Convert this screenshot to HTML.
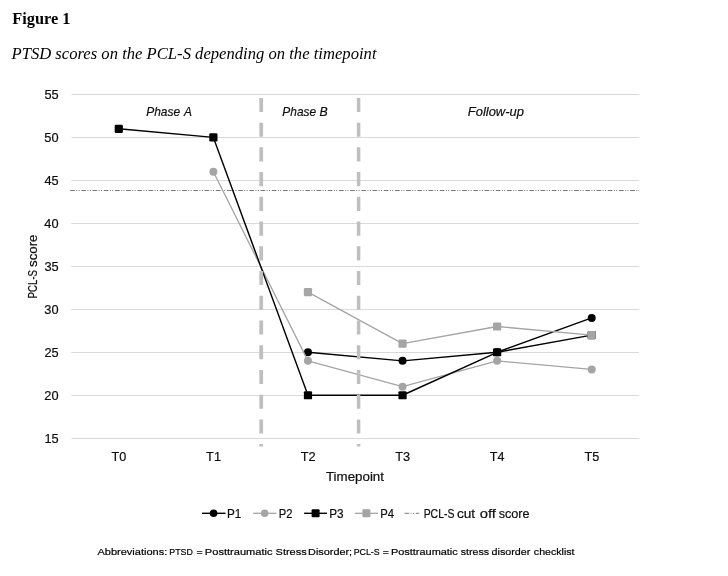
<!DOCTYPE html><html><head><meta charset="utf-8"><style>html,body{margin:0;padding:0;background:#fff;width:728px;height:576px;overflow:hidden}svg{display:block;will-change:transform} .c{stroke:#0d0d0d;stroke-width:0.2px;paint-order:stroke}</style></head><body>
<svg width="728" height="576" viewBox="0 0 728 576">
<rect width="728" height="576" fill="#fff"/>
<text x="12.22" y="23.50" font-family="Liberation Serif" font-weight="bold" font-size="17.3" fill="#000" textLength="58.22" lengthAdjust="spacingAndGlyphs">Figure 1</text>
<text x="11.5" y="59.4" font-family="Liberation Serif" font-style="italic" font-size="17" fill="#000" textLength="365" lengthAdjust="spacingAndGlyphs">PTSD scores on the PCL-S depending on the timepoint</text>
<line x1="71.3" y1="94.50" x2="639.0" y2="94.50" stroke="#d9d9d9" stroke-width="1"/>
<text class="c" x="44.40" y="98.92" font-family="Liberation Sans" font-size="12.8" fill="#0d0d0d" textLength="14.24" lengthAdjust="spacingAndGlyphs">55</text>
<line x1="71.3" y1="137.50" x2="639.0" y2="137.50" stroke="#d9d9d9" stroke-width="1"/>
<text class="c" x="44.36" y="141.90" font-family="Liberation Sans" font-size="12.8" fill="#0d0d0d" textLength="14.24" lengthAdjust="spacingAndGlyphs">50</text>
<line x1="71.3" y1="180.50" x2="639.0" y2="180.50" stroke="#d9d9d9" stroke-width="1"/>
<text class="c" x="44.40" y="184.87" font-family="Liberation Sans" font-size="12.8" fill="#0d0d0d" textLength="14.24" lengthAdjust="spacingAndGlyphs">45</text>
<line x1="71.3" y1="223.50" x2="639.0" y2="223.50" stroke="#d9d9d9" stroke-width="1"/>
<text class="c" x="44.36" y="227.85" font-family="Liberation Sans" font-size="12.8" fill="#0d0d0d" textLength="14.24" lengthAdjust="spacingAndGlyphs">40</text>
<line x1="71.3" y1="266.50" x2="639.0" y2="266.50" stroke="#d9d9d9" stroke-width="1"/>
<text class="c" x="44.40" y="270.82" font-family="Liberation Sans" font-size="12.8" fill="#0d0d0d" textLength="14.24" lengthAdjust="spacingAndGlyphs">35</text>
<line x1="71.3" y1="309.50" x2="639.0" y2="309.50" stroke="#d9d9d9" stroke-width="1"/>
<text class="c" x="44.36" y="313.80" font-family="Liberation Sans" font-size="12.8" fill="#0d0d0d" textLength="14.24" lengthAdjust="spacingAndGlyphs">30</text>
<line x1="71.3" y1="352.50" x2="639.0" y2="352.50" stroke="#d9d9d9" stroke-width="1"/>
<text class="c" x="44.40" y="356.77" font-family="Liberation Sans" font-size="12.8" fill="#0d0d0d" textLength="14.24" lengthAdjust="spacingAndGlyphs">25</text>
<line x1="71.3" y1="395.50" x2="639.0" y2="395.50" stroke="#d9d9d9" stroke-width="1"/>
<text class="c" x="44.36" y="399.75" font-family="Liberation Sans" font-size="12.8" fill="#0d0d0d" textLength="14.24" lengthAdjust="spacingAndGlyphs">20</text>
<line x1="71.3" y1="438.50" x2="639.0" y2="438.50" stroke="#d9d9d9" stroke-width="1"/>
<text class="c" x="44.40" y="442.72" font-family="Liberation Sans" font-size="12.8" fill="#0d0d0d" textLength="14.24" lengthAdjust="spacingAndGlyphs">15</text>
<line x1="70.2" y1="190.5" x2="639.0" y2="190.5" stroke="#7a7a7a" stroke-width="1" stroke-dasharray="4.7 1.4 1 1.3 1 1.8"/>
<text class="c" x="146.23" y="115.70" font-family="Liberation Sans" font-style="italic" font-size="12.8" fill="#0d0d0d" textLength="33.91" lengthAdjust="spacingAndGlyphs">Phase</text>
<text class="c" x="183.89" y="115.70" font-family="Liberation Sans" font-style="italic" font-size="12.8" fill="#0d0d0d" textLength="7.95" lengthAdjust="spacingAndGlyphs">A</text>
<text class="c" x="282.33" y="115.70" font-family="Liberation Sans" font-style="italic" font-size="12.8" fill="#0d0d0d" textLength="33.81" lengthAdjust="spacingAndGlyphs">Phase</text>
<text class="c" x="319.42" y="115.70" font-family="Liberation Sans" font-style="italic" font-size="12.8" fill="#0d0d0d" textLength="8.20" lengthAdjust="spacingAndGlyphs">B</text>
<text class="c" x="467.80" y="115.70" font-family="Liberation Sans" font-style="italic" font-size="12.8" fill="#0d0d0d" textLength="56.12" lengthAdjust="spacingAndGlyphs">Follow-up</text>
<polyline points="307.96,352.27 402.54,360.87 497.12,352.27 591.71,317.89" fill="none" stroke="#000000" stroke-width="1.4" stroke-linejoin="round"/>
<circle cx="307.96" cy="352.27" r="4" fill="#000000"/>
<circle cx="402.54" cy="360.87" r="4" fill="#000000"/>
<circle cx="497.12" cy="352.27" r="4" fill="#000000"/>
<circle cx="591.71" cy="317.89" r="4" fill="#000000"/>
<polyline points="213.38,171.78 307.96,360.87 402.54,386.65 497.12,360.87 591.71,369.46" fill="none" stroke="#a5a5a5" stroke-width="1.3" stroke-linejoin="round"/>
<circle cx="213.38" cy="171.78" r="4" fill="#a5a5a5"/>
<circle cx="307.96" cy="360.87" r="4" fill="#a5a5a5"/>
<circle cx="402.54" cy="386.65" r="4" fill="#a5a5a5"/>
<circle cx="497.12" cy="360.87" r="4" fill="#a5a5a5"/>
<circle cx="591.71" cy="369.46" r="4" fill="#a5a5a5"/>
<polyline points="118.79,128.80 213.38,137.40 307.96,395.25 402.54,395.25 497.12,352.27 591.71,335.08" fill="none" stroke="#000000" stroke-width="1.4" stroke-linejoin="round"/>
<rect x="114.69" y="124.70" width="8.2" height="8.2" rx="1.2" fill="#000000"/>
<rect x="209.28" y="133.30" width="8.2" height="8.2" rx="1.2" fill="#000000"/>
<rect x="303.86" y="391.15" width="8.2" height="8.2" rx="1.2" fill="#000000"/>
<rect x="398.44" y="391.15" width="8.2" height="8.2" rx="1.2" fill="#000000"/>
<rect x="493.02" y="348.17" width="8.2" height="8.2" rx="1.2" fill="#000000"/>
<rect x="587.61" y="330.98" width="8.2" height="8.2" rx="1.2" fill="#000000"/>
<polyline points="307.96,292.11 402.54,343.68 497.12,326.49 591.71,335.08" fill="none" stroke="#a5a5a5" stroke-width="1.3" stroke-linejoin="round"/>
<rect x="303.86" y="288.00" width="8.2" height="8.2" rx="1.2" fill="#a5a5a5"/>
<rect x="398.44" y="339.57" width="8.2" height="8.2" rx="1.2" fill="#a5a5a5"/>
<rect x="493.02" y="322.38" width="8.2" height="8.2" rx="1.2" fill="#a5a5a5"/>
<rect x="587.61" y="330.98" width="8.2" height="8.2" rx="1.2" fill="#a5a5a5"/>
<line x1="261.2" y1="97.9" x2="261.2" y2="446.5" stroke="#bfbfbf" stroke-width="3.8" stroke-dasharray="14.1 10.63"/>
<line x1="358.6" y1="97.9" x2="358.6" y2="446.5" stroke="#bfbfbf" stroke-width="3.5" stroke-dasharray="14.1 10.63"/>
<text class="c" x="111.51" y="460.80" font-family="Liberation Sans" font-size="12.8" fill="#0d0d0d" textLength="14.78" lengthAdjust="spacingAndGlyphs">T0</text>
<text class="c" x="206.09" y="460.80" font-family="Liberation Sans" font-size="12.8" fill="#0d0d0d" textLength="14.91" lengthAdjust="spacingAndGlyphs">T1</text>
<text class="c" x="300.67" y="460.80" font-family="Liberation Sans" font-size="12.8" fill="#0d0d0d" textLength="14.93" lengthAdjust="spacingAndGlyphs">T2</text>
<text class="c" x="395.26" y="460.80" font-family="Liberation Sans" font-size="12.8" fill="#0d0d0d" textLength="14.84" lengthAdjust="spacingAndGlyphs">T3</text>
<text class="c" x="489.84" y="460.80" font-family="Liberation Sans" font-size="12.8" fill="#0d0d0d" textLength="14.65" lengthAdjust="spacingAndGlyphs">T4</text>
<text class="c" x="584.42" y="460.80" font-family="Liberation Sans" font-size="12.8" fill="#0d0d0d" textLength="14.82" lengthAdjust="spacingAndGlyphs">T5</text>
<text class="c" x="325.95" y="480.70" font-family="Liberation Sans" font-size="12.8" fill="#0d0d0d" textLength="58.04" lengthAdjust="spacingAndGlyphs">Timepoint</text>
<g transform="translate(36.5,0) rotate(-90)">
<text class="c" x="-298.39" y="0.00" font-family="Liberation Sans" font-size="12.8" fill="#0d0d0d" textLength="28.44" lengthAdjust="spacingAndGlyphs">PCL-S</text>
<text class="c" x="-266.97" y="0.00" font-family="Liberation Sans" font-size="12.8" fill="#0d0d0d" textLength="32.46" lengthAdjust="spacingAndGlyphs">score</text>
</g>
<line x1="202" y1="513.3" x2="225.5" y2="513.3" stroke="#000000" stroke-width="1.4"/>
<circle cx="213.6" cy="513.3" r="3.8" fill="#000000"/>
<line x1="253.1" y1="513.3" x2="276.4" y2="513.3" stroke="#a5a5a5" stroke-width="1.3"/>
<circle cx="264.7" cy="513.3" r="3.8" fill="#a5a5a5"/>
<line x1="304.1" y1="513.3" x2="327" y2="513.3" stroke="#000000" stroke-width="1.4"/>
<rect x="311.6" y="509.29999999999995" width="8" height="8" rx="1" fill="#000000"/>
<line x1="355" y1="513.3" x2="378" y2="513.3" stroke="#a5a5a5" stroke-width="1.3"/>
<rect x="362.4" y="509.29999999999995" width="8" height="8" rx="1" fill="#a5a5a5"/>
<line x1="404.5" y1="513.3" x2="419.2" y2="513.3" stroke="#7a7a7a" stroke-width="1" stroke-dasharray="4.7 1.4 1 1.3 1 1.8"/>
<text class="c" x="227.04" y="517.60" font-family="Liberation Sans" font-size="12.8" fill="#0d0d0d" textLength="14.33" lengthAdjust="spacingAndGlyphs">P1</text>
<text class="c" x="278.78" y="517.60" font-family="Liberation Sans" font-size="12.8" fill="#0d0d0d" textLength="13.79" lengthAdjust="spacingAndGlyphs">P2</text>
<text class="c" x="329.14" y="517.60" font-family="Liberation Sans" font-size="12.8" fill="#0d0d0d" textLength="14.38" lengthAdjust="spacingAndGlyphs">P3</text>
<text class="c" x="380.28" y="517.60" font-family="Liberation Sans" font-size="12.8" fill="#0d0d0d" textLength="13.75" lengthAdjust="spacingAndGlyphs">P4</text>
<text class="c" x="423.64" y="517.60" font-family="Liberation Sans" font-size="12.8" fill="#0d0d0d" textLength="30.84" lengthAdjust="spacingAndGlyphs">PCL-S</text>
<text class="c" x="456.92" y="517.60" font-family="Liberation Sans" font-size="12.8" fill="#0d0d0d" textLength="18.28" lengthAdjust="spacingAndGlyphs">cut</text>
<text class="c" x="479.69" y="517.60" font-family="Liberation Sans" font-size="12.8" fill="#0d0d0d" textLength="16.19" lengthAdjust="spacingAndGlyphs">off</text>
<text class="c" x="498.65" y="517.60" font-family="Liberation Sans" font-size="12.8" fill="#0d0d0d" textLength="30.81" lengthAdjust="spacingAndGlyphs">score</text>
<text class="c" x="97.48" y="555.10" font-family="Liberation Sans" font-size="9.6" fill="#000" textLength="69.73" lengthAdjust="spacingAndGlyphs">Abbreviations:</text>
<text class="c" x="169.27" y="555.10" font-family="Liberation Sans" font-size="9.6" fill="#000" textLength="23.65" lengthAdjust="spacingAndGlyphs">PTSD</text>
<text class="c" x="196.49" y="555.10" font-family="Liberation Sans" font-size="9.6" fill="#000" textLength="6.13" lengthAdjust="spacingAndGlyphs">=</text>
<text class="c" x="204.89" y="555.10" font-family="Liberation Sans" font-size="9.6" fill="#000" textLength="67.60" lengthAdjust="spacingAndGlyphs">Posttraumatic</text>
<text class="c" x="275.60" y="555.10" font-family="Liberation Sans" font-size="9.6" fill="#000" textLength="31.09" lengthAdjust="spacingAndGlyphs">Stress</text>
<text class="c" x="308.11" y="555.10" font-family="Liberation Sans" font-size="9.6" fill="#000" textLength="43.96" lengthAdjust="spacingAndGlyphs">Disorder;</text>
<text class="c" x="353.68" y="555.10" font-family="Liberation Sans" font-size="9.6" fill="#000" textLength="26.03" lengthAdjust="spacingAndGlyphs">PCL-S</text>
<text class="c" x="382.89" y="555.10" font-family="Liberation Sans" font-size="9.6" fill="#000" textLength="6.13" lengthAdjust="spacingAndGlyphs">=</text>
<text class="c" x="390.90" y="555.10" font-family="Liberation Sans" font-size="9.6" fill="#000" textLength="66.89" lengthAdjust="spacingAndGlyphs">Posttraumatic</text>
<text class="c" x="460.80" y="555.10" font-family="Liberation Sans" font-size="9.6" fill="#000" textLength="28.38" lengthAdjust="spacingAndGlyphs">stress</text>
<text class="c" x="491.55" y="555.10" font-family="Liberation Sans" font-size="9.6" fill="#000" textLength="38.73" lengthAdjust="spacingAndGlyphs">disorder</text>
<text class="c" x="533.85" y="555.10" font-family="Liberation Sans" font-size="9.6" fill="#000" textLength="40.73" lengthAdjust="spacingAndGlyphs">checklist</text>
</svg></body></html>
